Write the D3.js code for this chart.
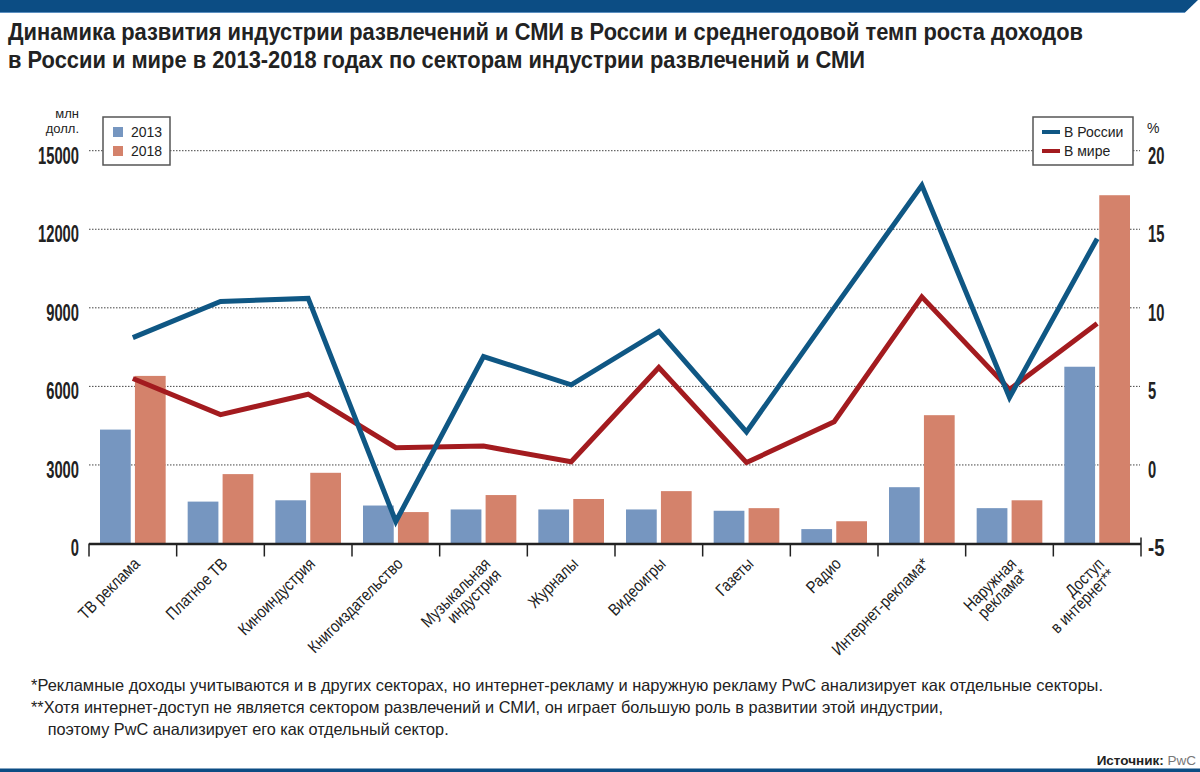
<!DOCTYPE html>
<html><head><meta charset="utf-8">
<script src="https://cdn.jsdelivr.net/npm/d3@7"></script>
<style>
body{margin:0;background:#fff;}
svg{display:block;}
text{font-family:"Liberation Sans",Arial,sans-serif;fill:#222;}
</style></head><body>
<svg id="c" width="1200" height="772"></svg>
<script>
// ---- data ----
const categories = ['ТВ реклама','Платное ТВ','Киноиндустрия','Книгоиздательство','Музыкальная|индустрия','Журналы','Видеоигры','Газеты','Радио','Интернет-реклама*','Наружная|реклама*','Доступ|в интернет**'];
const values2013 = [4350,1600,1650,1450,1300,1300,1300,1250,550,2150,1350,6750];
const values2018 = [6400,2650,2700,1200,1850,1700,2000,1350,850,4900,1650,13300];
const growthRussia = [8.1,10.4,10.6,-3.6,6.9,5.1,8.5,2.1,10.0,17.8,4.3,14.4];
const growthWorld = [5.5,3.2,4.5,1.1,1.2,0.2,6.2,0.15,2.75,10.7,4.8,9.0];
const leftTicks = [0,3000,6000,9000,12000,15000];
const rightTicks = [-5,0,5,10,15,20];
const barSeries = ['2013','2018'];
const lineSeries = ['В России','В мире'];
const titleLines = ['Динамика развития индустрии развлечений и СМИ в России и среднегодовой темп роста доходов','в России и мире в 2013-2018 годах по секторам индустрии развлечений и СМИ'];
const notes = ['*Рекламные доходы учитываются и в других секторах, но интернет-рекламу и наружную рекламу PwC анализирует как отдельные секторы.','**Хотя интернет-доступ не является сектором развлечений и СМИ, он играет большую роль в развитии этой индустрии,','поэтому PwC анализирует его как отдельный сектор.'];

// ---- style ----
const C = {bar2013:'#7696c0', bar2018:'#d4826b', ru:'#0f5784', world:'#a31b1f', navy:'#0c4d84'};
const svg = d3.select('#c');
const L = 89, R = 1141, T = 150.7, B = 543.5;

const x = d3.scaleBand().domain(categories).range([L,R]).paddingInner(0).paddingOuter(0);
const bw = x.bandwidth();
const x1 = d3.scaleBand().domain(barSeries).range([11, bw-11]).paddingInner(0.12);
const yL = d3.scaleLinear().domain([0,15000]).range([B,T]);
const yR = d3.scaleLinear().domain([-5,20]).range([B,T]);

// top bar
svg.append('polygon').attr('points','0,0 1198,0 1185,12.5 0,12.5').attr('fill',C.navy);
svg.append('line').attr('x1',0).attr('x2',1185).attr('y1',12.5).attr('y2',12.5).attr('stroke','#5b8fc0').attr('stroke-width',1.2);
// bottom bar
svg.append('rect').attr('x',0).attr('y',768.5).attr('width',1200).attr('height',4).attr('fill',C.navy);

// title
const tlen = [1075, 857];
svg.selectAll('text.title').data(titleLines).join('text').attr('class','title')
  .attr('x',8).attr('y',(d,i)=>40+i*28)
  .style('font-size','24px').style('font-weight','bold')
  .attr('textLength',(d,i)=>tlen[i]).attr('lengthAdjust','spacingAndGlyphs')
  .text(d=>d);

// gridlines
svg.append('g').selectAll('line').data(leftTicks.filter(d=>d>0)).join('line')
  .attr('x1',L).attr('x2',1140).attr('y1',d=>yL(d)).attr('y2',d=>yL(d))
  .attr('stroke','#444').attr('stroke-width',1).attr('stroke-dasharray','1.5,1.5');

// left axis
const gL = svg.append('g').attr('transform',`translate(${L},0)`)
  .call(d3.axisLeft(yL).tickValues(leftTicks).tickSize(0).tickPadding(10).tickFormat(d3.format('d')));
gL.select('.domain').remove();
gL.selectAll('text').style('font-size','23px').style('font-weight','bold').style('font-family','"Liberation Sans",Arial,sans-serif').attr('fill','#222')
  .attr('y',5).attr('textLength',function(d){return String(d).length*8.2;}).attr('lengthAdjust','spacingAndGlyphs');
// right axis
const gR = svg.append('g').attr('transform',`translate(${R},0)`)
  .call(d3.axisRight(yR).tickValues(rightTicks).tickSize(0).tickPadding(7).tickFormat(d=>String(d)));
gR.select('.domain').remove();
gR.selectAll('text').style('font-size','23px').style('font-weight','bold').style('font-family','"Liberation Sans",Arial,sans-serif').attr('fill','#222')
  .attr('y',5).attr('textLength',function(d){return String(d).length*8.2;}).attr('lengthAdjust','spacingAndGlyphs');

// unit labels
svg.append('text').attr('x',79).attr('y',118).attr('text-anchor','end').style('font-size','13px').text('млн');
svg.append('text').attr('x',79).attr('y',133).attr('text-anchor','end').style('font-size','13px').text('долл.');
svg.append('text').attr('x',1147).attr('y',133).style('font-size','14px').text('%');

// bars
const gb = svg.append('g');
categories.forEach((c,i)=>{
  const vals = [values2013[i], values2018[i]];
  gb.selectAll(null).data(barSeries.map((s,k)=>({s,v:vals[k]}))).join('rect')
    .attr('x',d=>x(c)+x1(d.s)).attr('width',x1.bandwidth())
    .attr('y',d=>yL(d.v)).attr('height',d=>B-yL(d.v))
    .attr('fill',d=>d.s==='2013'?C.bar2013:C.bar2018);
});

// x axis line + ticks
svg.append('line').attr('x1',L).attr('x2',R).attr('y1',B+0.5).attr('y2',B+0.5).attr('stroke','#222').attr('stroke-width',2.5);
const bounds = categories.map(c=>x(c)).concat([R]);
svg.append('g').selectAll('line').data(bounds).join('line')
  .attr('x1',d=>d).attr('x2',d=>d).attr('y1',(d,i)=>i===bounds.length-1?B-6:B).attr('y2',B+13)
  .attr('stroke','#222').attr('stroke-width',1.5);

// lines
const line = (yS)=>d3.line().x((d,i)=>x(categories[i])+bw/2).y(d=>yS(d));
svg.append('path').attr('d',line(yR)(growthWorld)).attr('fill','none').attr('stroke',C.world).attr('stroke-width',5).attr('stroke-linejoin','miter');
svg.append('path').attr('d',line(yR)(growthRussia)).attr('fill','none').attr('stroke',C.ru).attr('stroke-width',5).attr('stroke-linejoin','miter');

// x labels (condensed look: tall glyphs squeezed horizontally)
const gx = svg.append('g');
categories.forEach(c=>{
  const cx = x(c)+bw/2;
  const t = gx.append('text').attr('transform',`translate(${cx+8},565) rotate(-45)`)
    .attr('text-anchor','end').style('font-size','17px');
  c.split('|').forEach((ln,k)=>{
    const ts = t.append('tspan').attr('x',0).attr('dy',k===0?0:'0.9em').text(ln);
    const w = ts.node().getComputedTextLength();
    ts.attr('textLength', w*0.84).attr('lengthAdjust','spacingAndGlyphs');
  });
});

// legend left
const lg = svg.append('g');
lg.append('rect').attr('x',103).attr('y',117).attr('width',67).attr('height',48).attr('fill','#fff').attr('stroke','#555').attr('stroke-width',1.5);
barSeries.forEach((s,k)=>{
  lg.append('rect').attr('x',113).attr('y',127+k*19).attr('width',10).attr('height',10).attr('fill',k===0?C.bar2013:C.bar2018);
  lg.append('text').attr('x',131).attr('y',137+k*19).style('font-size','14px').text(s);
});
// legend right
const rg = svg.append('g');
rg.append('rect').attr('x',1033).attr('y',117).attr('width',100).attr('height',48).attr('fill','#fff').attr('stroke','#555').attr('stroke-width',1.5);
lineSeries.forEach((s,k)=>{
  rg.append('line').attr('x1',1042).attr('x2',1060).attr('y1',132+k*19).attr('y2',132+k*19).attr('stroke',k===0?C.ru:C.world).attr('stroke-width',4);
  rg.append('text').attr('x',1064).attr('y',137+k*19).style('font-size','14px').text(s);
});

// notes
const nx = [31,31,47.7], nlen=[1072,912,401], ny=[691,713,735];
svg.selectAll('text.note').data(notes).join('text').attr('class','note')
  .attr('x',(d,i)=>nx[i]).attr('y',(d,i)=>ny[i]).style('font-size','16.5px')
  .attr('textLength',(d,i)=>nlen[i]).attr('lengthAdjust','spacingAndGlyphs').text(d=>d);

// source
const src = svg.append('text').attr('x',1196).attr('y',765).attr('text-anchor','end').style('font-size','13.5px');
src.append('tspan').style('font-weight','bold').text('Источник: ');
src.append('tspan').attr('fill','#777').style('fill','#777').text('PwC');
</script>
</body></html>
